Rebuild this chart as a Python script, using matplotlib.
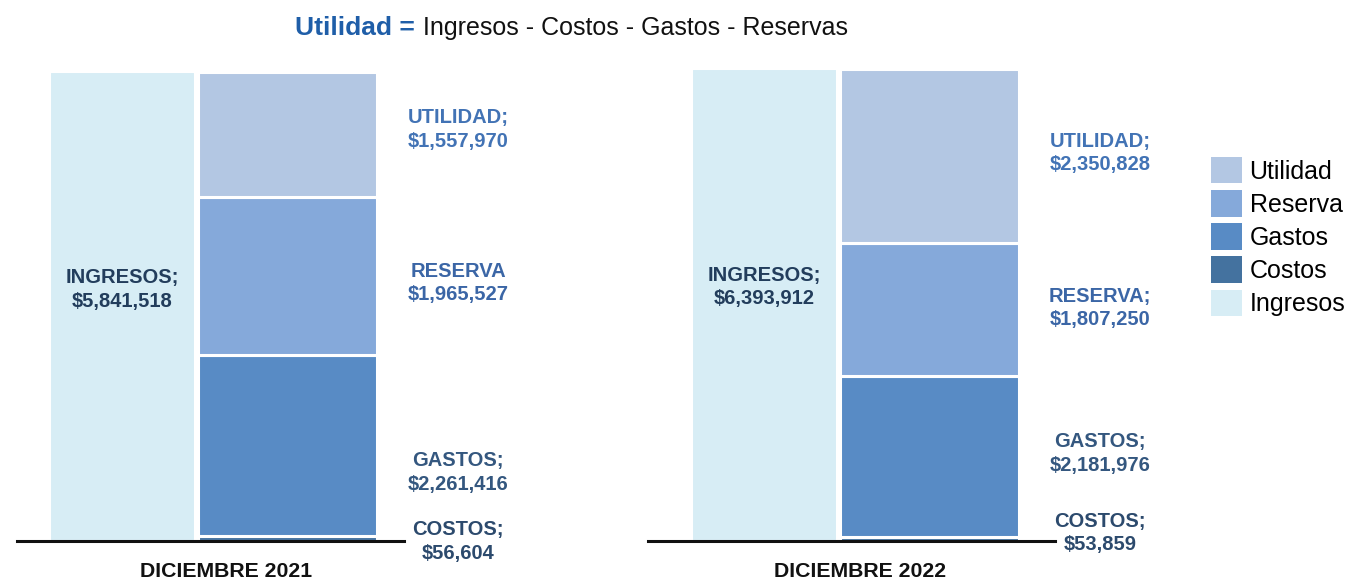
import matplotlib.pyplot as plt
from matplotlib.patches import Patch

plt.rcParams['font.family'] = ['Liberation Sans', 'DejaVu Sans']

# datos
periodos = ['DICIEMBRE 2021', 'DICIEMBRE 2022']
ingresos = [5841518, 6393912]
costos = [56604, 53859]
gastos = [2261416, 2181976]
reservas = [1965527, 1807250]
utilidad = [1557970, 2350828]
rotulo_reserva = ['RESERVA', 'RESERVA;']

colores = {
    'Utilidad': '#b3c7e3',
    'Reserva': '#85a9da',
    'Gastos': '#588bc5',
    'Costos': '#44729f',
    'Ingresos': '#d7edf5',
}
col_txt = {
    'Utilidad': '#4273b5',
    'Reserva': '#3b66a6',
    'Gastos': '#34577f',
    'Costos': '#2c4a6d',
    'Ingresos': '#223d5c',
}

W, H = 1356, 584
fig = plt.figure(figsize=(W / 100, H / 100), dpi=100)

# posicion de cada panel en pixeles: (x borde izq. eje, x del cero, x borde der., y tope)
paneles = [(17, 50, 404, 72), (648, 692, 1055, 69)]
# ajustes verticales de los rotulos (px): ingresos, costos, gastos, reserva, utilidad
ajustes = [(17, -3, -27, -7, 5), (18, 6, 3, 1, 3)]
# centro horizontal del nombre del periodo (unidades de datos)
x_periodo = [1.76, 1.68]

base_px = 541
for i, (x0, xz, x1, ytop) in enumerate(paneles):
    ax = fig.add_axes([x0 / W, (H - base_px) / H, (x1 - x0) / W, (base_px - ytop) / H])
    ax.set_xlim((x0 - xz) / 100, (x1 - xz) / 100)
    ax.set_ylim(0, ingresos[i])

    ax.bar(0, ingresos[i], width=1.45, align='edge', color=colores['Ingresos'],
           edgecolor='white', linewidth=1.5)
    partes = [('Costos', costos[i]), ('Gastos', gastos[i]),
              ('Reserva', reservas[i]), ('Utilidad', utilidad[i])]
    fondo = 0
    centros = []
    for nombre, v in partes:
        ax.bar(1.48, v, width=1.79, bottom=fondo, align='edge', color=colores[nombre],
               edgecolor='white', linewidth=2.2)
        centros.append(fondo + v / 2)
        fondo += v

    adj = ajustes[i]
    ax.annotate('INGRESOS;\n${:,}'.format(ingresos[i]), (0.725, ingresos[i] / 2),
                xytext=(0, adj[0] / 1.389), textcoords='offset points',
                ha='center', va='center', fontsize=14.5, fontweight='bold',
                color=col_txt['Ingresos'], linespacing=1.3)
    textos = ['COSTOS;', 'GASTOS;', rotulo_reserva[i], 'UTILIDAD;']
    for k, ((nombre, v), c) in enumerate(zip(partes, centros)):
        ax.annotate('{}\n${:,}'.format(textos[k], v), (4.08, c),
                    xytext=(0, adj[k + 1] / 1.389), textcoords='offset points',
                    ha='center', va='center', fontsize=14.5, fontweight='bold',
                    color=col_txt[nombre], linespacing=1.3,
                    annotation_clip=False)

    ax.annotate(periodos[i], (x_periodo[i], 0), xycoords=('data', 'axes fraction'),
                xytext=(0, -31 / 1.389), textcoords='offset points',
                ha='center', va='center', fontsize=15.3, fontweight='bold',
                color='#111111', annotation_clip=False)

    for s in ['top', 'left', 'right']:
        ax.spines[s].set_visible(False)
    ax.spines['bottom'].set_linewidth(2.2)
    ax.spines['bottom'].set_color('#111111')
    ax.set_xticks([])
    ax.set_yticks([])
    ax.patch.set_visible(False)

# titulo
fig.text(415 / W, 1 - 35 / H, 'Utilidad =', ha='right', va='baseline', fontsize=19,
         fontweight='bold', color='#1f5ea8')
fig.text(423 / W, 1 - 35 / H, 'Ingresos - Costos - Gastos - Reservas', ha='left',
         va='baseline', fontsize=18, color='#111111')

# leyenda
orden = ['Utilidad', 'Reserva', 'Gastos', 'Costos', 'Ingresos']
handles = [Patch(facecolor=colores[n], edgecolor='none') for n in orden]
fig.legend(handles, orden, loc='upper left', bbox_to_anchor=(1211 / W, 1 - 157 / H),
           frameon=False, fontsize=18, handlelength=1.24, handleheight=1.25,
           handletextpad=0.3, labelspacing=0.26, borderaxespad=0, borderpad=0)

fig.savefig('out.png', dpi=100)
